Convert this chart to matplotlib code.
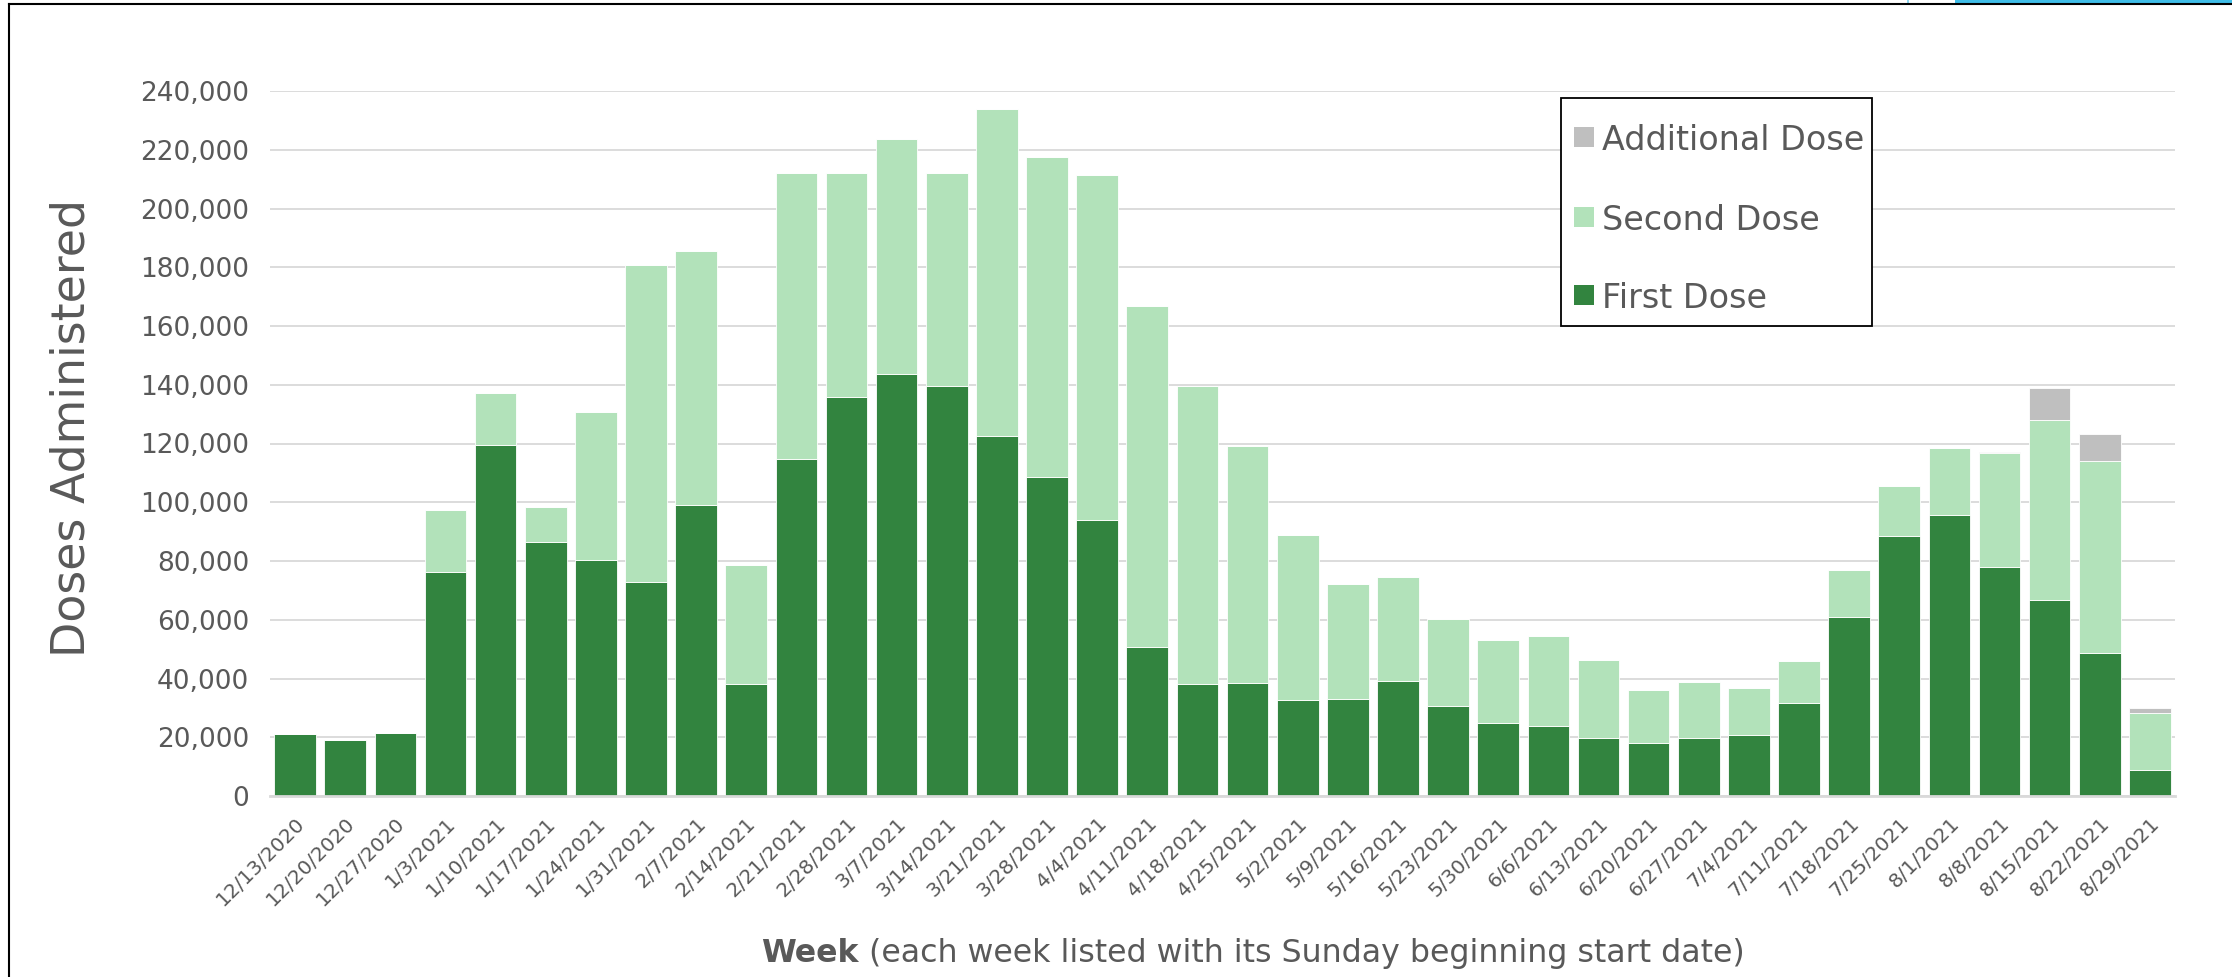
import matplotlib
matplotlib.use("Agg")
import matplotlib.pyplot as plt
import numpy as np
from matplotlib.patches import Rectangle
from matplotlib.ticker import FuncFormatter

weeks = ["12/13/2020", "12/20/2020", "12/27/2020", "1/3/2021", "1/10/2021", "1/17/2021",
         "1/24/2021", "1/31/2021", "2/7/2021", "2/14/2021", "2/21/2021", "2/28/2021",
         "3/7/2021", "3/14/2021", "3/21/2021", "3/28/2021", "4/4/2021", "4/11/2021",
         "4/18/2021", "4/25/2021", "5/2/2021", "5/9/2021", "5/16/2021", "5/23/2021",
         "5/30/2021", "6/6/2021", "6/13/2021", "6/20/2021", "6/27/2021", "7/4/2021",
         "7/11/2021", "7/18/2021", "7/25/2021", "8/1/2021", "8/8/2021", "8/15/2021",
         "8/22/2021", "8/29/2021"]

first_dose = [21100, 18900, 21400, 76400, 119400, 86300, 80200, 72700, 99200, 38100,
              114700, 135900, 143800, 139500, 122500, 108600, 94100, 50800, 38000, 38300,
              32800, 33100, 39200, 30800, 24800, 23800, 19900, 17900, 19900, 20600,
              31700, 61000, 88500, 95700, 78100, 66600, 48800, 9000]

second_dose = [0, 0, 0, 20900, 17800, 12000, 50400, 107900, 86400, 40700,
               97500, 76100, 80000, 72500, 111400, 109100, 117200, 115900, 101700, 80700,
               56000, 39100, 35200, 29400, 28300, 30700, 26500, 18200, 19000, 16000,
               14300, 16000, 17000, 22700, 38600, 61500, 65400, 19300]

additional_dose = [0] * 34 + [400, 10800, 8900, 1700]

series_labels = ["First Dose", "Second Dose", "Additional Dose"]
colors = ["#32843F", "#B2E2BA", "#BFBFBF"]
text_color = "#595959"
grid_color = "#D9D9D9"

plt.rcParams['font.family'] = ['DejaVu Sans']

W, H = 2232, 977
fig = plt.figure(figsize=(W / 100, H / 100), dpi=100)
fig.patch.set_facecolor("white")

ax = fig.add_axes([270 / W, 1 - 796 / H, (2175 - 270) / W, (796 - 91) / H])

x = np.arange(len(weeks))
f = np.array(first_dose)
s = np.array(second_dose)
a = np.array(additional_dose)
bw = 0.83
ax.bar(x, f, width=bw, color=colors[0], edgecolor="white", linewidth=0.6, zorder=3)
ax.bar(x, s, width=bw, bottom=f, color=colors[1], edgecolor="white", linewidth=0.6, zorder=3)
ax.bar(x, a, width=bw, bottom=f + s, color=colors[2], edgecolor="white", linewidth=0.6, zorder=3)

ax.set_xlim(-0.5, len(weeks) - 0.5)
ax.set_ylim(0, 240000)
ax.set_yticks(np.arange(0, 240001, 20000))
ax.yaxis.set_major_formatter(FuncFormatter(lambda v, p: f"{int(v):,}"))
ax.grid(axis="y", color=grid_color, linewidth=1.3, zorder=0)
ax.set_axisbelow(True)
for sp in ["top", "right", "left"]:
    ax.spines[sp].set_visible(False)
ax.spines["bottom"].set_color(grid_color)
ax.spines["bottom"].set_linewidth(2.0)
ax.spines["bottom"].set_zorder(4)

ax.tick_params(axis="y", length=0, pad=15, labelsize=19, labelcolor=text_color)
ax.tick_params(axis="x", length=0, pad=13, labelsize=14.5, labelcolor=text_color)
ax.set_xticks(x)
ax.set_xticklabels(weeks, rotation=45, ha="right", rotation_mode="anchor")

# y label
fig.text(72 / W, 1 - 428 / H, "Doses Administered", rotation=90, ha="center", va="center",
         fontsize=33, color=text_color)

# x label: bold "Week" + regular remainder, centered as a whole
fig.canvas.draw()
renderer = fig.canvas.get_renderer()
t1 = fig.text(0, 0, "Week", fontsize=22.8, fontweight="bold", color=text_color, va="baseline")
t2 = fig.text(0, 0, " (each week listed with its Sunday beginning start date)", fontsize=22.8,
              color=text_color, va="baseline")
w1 = t1.get_window_extent(renderer).width
w2 = t2.get_window_extent(renderer).width
cx = 1253
x0 = cx - (w1 + w2) / 2
ybase = 1 - 962 / H
t1.set_position((x0 / W, ybase))
t2.set_position(((x0 + w1) / W, ybase))

# legend (drawn by hand to match box geometry)
def fx(px):
    return px / W

def fy(py):
    return 1 - py / H

fig.add_artist(Rectangle((fx(1561), fy(326)), (1872 - 1561) / W, (326 - 98) / H,
                         transform=fig.transFigure, facecolor="white", edgecolor="black",
                         linewidth=1.3, zorder=10))
leg_order = [2, 1, 0]
row_y = [137, 217, 295]
for idx, ry in zip(leg_order, row_y):
    fig.add_artist(Rectangle((fx(1574), fy(ry + 10)), 20 / W, 20 / H,
                             transform=fig.transFigure, facecolor=colors[idx],
                             edgecolor="none", zorder=11))
    fig.text(fx(1602), fy(ry), series_labels[idx], fontsize=24, color=text_color,
             ha="left", va="center_baseline", zorder=12)

# frame border lines (cropped screenshot edges)
fig.add_artist(plt.Line2D([9 / W, 9 / W], [0, 1 - 4 / H], transform=fig.transFigure,
                          color="black", linewidth=1.5))
fig.add_artist(plt.Line2D([9 / W, 1], [1 - 4 / H, 1 - 4 / H], transform=fig.transFigure,
                          color="black", linewidth=1.5))
fig.add_artist(Rectangle((1955 / W, 1 - 3.5 / H), (W - 1955) / W, 3.5 / H,
                         transform=fig.transFigure, color="#3FBDE8", linewidth=0))
fig.add_artist(Rectangle((1907 / W, 1 - 3.5 / H), 1.5 / W, 3.5 / H,
                         transform=fig.transFigure, color="#8FD6F0", linewidth=0))

fig.savefig("out.png", dpi=100)
